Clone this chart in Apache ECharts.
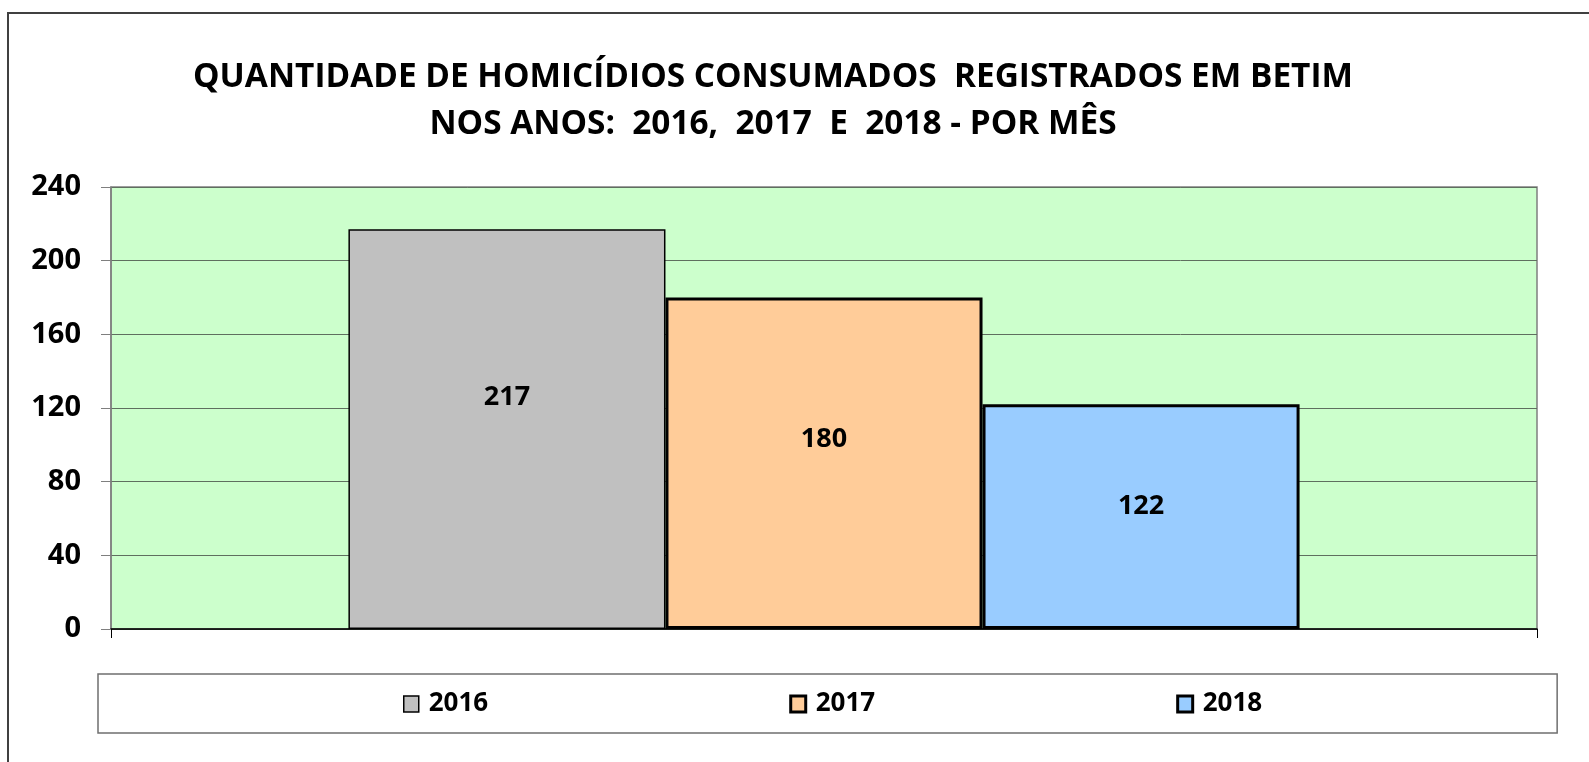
<!DOCTYPE html>
<html>
<head>
<meta charset="utf-8">
<script src="https://cdn.jsdelivr.net/npm/echarts@6/dist/echarts.min.js"></script>
<style>
  html, body { margin: 0; padding: 0; background: #fff; }
  #chart { width: 1589px; height: 762px; }
</style>
</head>
<body>
<div id="chart"></div>
<script>
// dados
const categories = ['Homicídios'];
const years = ['2016', '2017', '2018'];
const values2016 = [217];
const values2017 = [180];
const values2018 = [122];
const yTicks = [0, 40, 80, 120, 160, 200, 240];

const titleLines = [
  'QUANTIDADE DE HOMICÍDIOS CONSUMADOS  REGISTRADOS EM BETIM',
  'NOS ANOS:  2016,  2017  E  2018 - POR MÊS'
];

const FONT = '"Open Sans", "Noto Sans", sans-serif';
const borders = [1.5, 3, 3];

function makeSeries(name, data, color, border, labelPos) {
  return {
    name: name,
    type: 'bar',
    data: data,
    barGap: 0,
    barCategoryGap: '33.3%',
    itemStyle: {
      color: color,
      borderColor: '#000',
      borderWidth: border
    },
    label: {
      show: true,
      position: ['50%', labelPos],
      align: 'center',
      verticalAlign: 'middle',
      color: '#000',
      fontFamily: FONT,
      fontWeight: 'bold',
      fontSize: 27
    }
  };
}

const chart = echarts.init(document.getElementById('chart'));
chart.setOption({
  backgroundColor: '#fff',
  animation: false,
  graphic: [
    {
      type: 'rect',
      z: -1,
      shape: { x: 8, y: 13, width: 1700, height: 900 },
      style: { fill: 'none', stroke: '#404040', lineWidth: 2 }
    },
    {
      type: 'text',
      x: 773, y: 77,
      style: {
        text: titleLines[0],
        align: 'center', verticalAlign: 'middle',
        font: 'bold 33.4px ' + FONT, fill: '#000'
      }
    },
    {
      type: 'text',
      x: 773, y: 124,
      style: {
        text: titleLines[1],
        align: 'center', verticalAlign: 'middle',
        font: 'bold 33.4px ' + FONT, fill: '#000'
      }
    }
  ],
  legend: {
    data: years.map((y, i) => ({ name: y, itemStyle: { borderWidth: borders[i], borderColor: '#000' } })),
    left: 98,
    top: 674,
    padding: [17, 295, 16, 305],
    itemGap: 301,
    icon: 'rect',
    itemWidth: 15,
    itemHeight: 16,
    borderColor: '#6f6f6f',
    borderWidth: 1.5,
    textStyle: {
      fontFamily: FONT,
      fontWeight: 'bold',
      fontSize: 26,
      color: '#000',
      padding: [0, 0, 0, 5]
    }
  },
  grid: {
    left: 111,
    top: 187,
    width: 1426,
    height: 442,
    show: true,
    backgroundColor: '#CCFFCC',
    borderColor: '#7f7f7f',
    borderWidth: 1.5
  },
  xAxis: {
    type: 'category',
    data: categories,
    axisLine: { lineStyle: { color: '#000', width: 1.5 } },
    axisTick: { show: true, length: 9, lineStyle: { color: '#000' } },
    axisLabel: { show: false }
  },
  yAxis: {
    type: 'value',
    min: yTicks[0],
    max: yTicks[yTicks.length - 1],
    interval: 40,
    axisLine: { show: true, lineStyle: { color: '#7f7f7f', width: 1.5 } },
    axisTick: { show: true, length: 10, lineStyle: { color: '#7f7f7f' } },
    splitLine: { lineStyle: { color: '#5f6f5f', width: 1 } },
    axisLabel: {
      margin: 30,
      color: '#000',
      fontFamily: FONT,
      fontWeight: 'bold',
      fontSize: 29
    }
  },
  series: [
    makeSeries(years[0], values2016, '#C0C0C0', borders[0], '42%'),
    makeSeries(years[1], values2017, '#FFCC99', borders[1], '42.8%'),
    makeSeries(years[2], values2018, '#99CCFF', borders[2], '45.6%')
  ]
});
</script>
</body>
</html>
